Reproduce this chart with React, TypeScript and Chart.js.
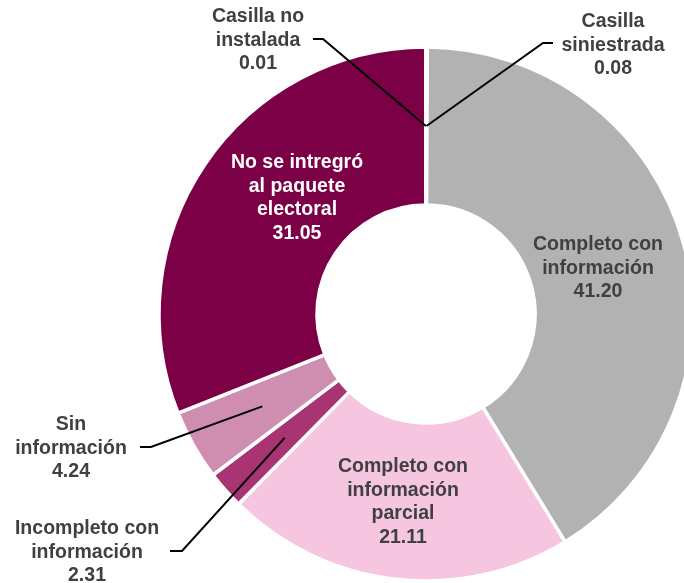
import React, { useEffect, useRef } from "react";
import { Chart, registerables } from "chart.js";

Chart.register(...registerables);

// ---- data ----
const categories = [
  "Casilla siniestrada",
  "Completo con información",
  "Completo con información parcial",
  "Incompleto con información",
  "Sin información",
  "No se intregró al paquete electoral",
  "Casilla no instalada",
];
const values = [0.08, 41.2, 21.11, 2.31, 4.24, 31.05, 0.01];
const sliceColors = [
  "#8c8c8c",
  "#b2b2b2",
  "#f6c6e1",
  "#a83473",
  "#cf8db0",
  "#7b0046",
  "#5e0035",
];
// wrapped category text for labels
const labelLines = [
  ["Casilla", "siniestrada"],
  ["Completo con", "información"],
  ["Completo con", "información", "parcial"],
  ["Incompleto con", "información"],
  ["Sin", "información"],
  ["No se intregró", "al paquete", "electoral"],
  ["Casilla no", "instalada"],
];

// ---- label layout (text positions, leader bend points) ----
type LabelLayout = {
  x: number;
  y: number;
  color: string;
  leader?: [number, number][];
};
const labelLayout: LabelLayout[] = [
  { x: 613, y: 22, color: "#404040", leader: [[553, 43], [543, 43]] },
  { x: 598, y: 245, color: "#404040" },
  { x: 403, y: 467, color: "#404040" },
  { x: 87, y: 529, color: "#404040", leader: [[170, 551], [182, 551]] },
  { x: 71, y: 425, color: "#404040", leader: [[140, 447], [151, 447]] },
  { x: 297, y: 163, color: "#ffffff" },
  { x: 258, y: 17, color: "#404040", leader: [[313, 39], [323, 39]] },
];

const FONT = 'bold 19.5px "Liberation Sans", Arial, sans-serif';
const LINE_H = 23.4;
const OUTER_R = 267;
const INNER_R = 109;

const labelPlugin = {
  id: "sliceLabels",
  afterDatasetsDraw(chart: any) {
    const ctx = chart.ctx as CanvasRenderingContext2D;
    const meta = chart.getDatasetMeta(0);
    ctx.save();
    // leader lines
    labelLayout.forEach((lay, i) => {
      if (!lay.leader) return;
      const arc = meta.data[i];
      const c = arc.getCenterPoint();
      ctx.beginPath();
      ctx.strokeStyle = "#000000";
      ctx.lineWidth = 2;
      ctx.lineJoin = "miter";
      ctx.moveTo(lay.leader[0][0], lay.leader[0][1]);
      for (let k = 1; k < lay.leader.length; k++) ctx.lineTo(lay.leader[k][0], lay.leader[k][1]);
      ctx.lineTo(c.x, c.y);
      ctx.stroke();
    });
    // texts
    ctx.font = FONT;
    ctx.textAlign = "center";
    ctx.textBaseline = "middle";
    labelLayout.forEach((lay, i) => {
      const lines = [...labelLines[i], values[i].toFixed(2)];
      ctx.fillStyle = lay.color;
      lines.forEach((t, k) => ctx.fillText(t, lay.x, lay.y + k * LINE_H));
    });
    ctx.restore();
  },
};

export default function App() {
  const ref = useRef<HTMLCanvasElement | null>(null);
  useEffect(() => {
    if (!ref.current) return;
    const chart = new Chart(ref.current, {
      type: "doughnut",
      data: {
        labels: categories,
        datasets: [
          {
            data: values,
            backgroundColor: sliceColors,
            borderColor: "#ffffff",
            borderWidth: 3.5,
            clip: false,
          } as any,
        ],
      },
      options: {
        responsive: false,
        maintainAspectRatio: false,
        animation: false,
        radius: OUTER_R,
        cutout: ((INNER_R / OUTER_R) * 100).toFixed(3) + "%",
        rotation: 0,
        layout: { padding: { left: 168, top: 45, right: 0, bottom: 0 } },
        plugins: {
          legend: { display: false },
          tooltip: { enabled: false },
        },
      } as any,
      plugins: [labelPlugin],
    });
    return () => chart.destroy();
  }, []);
  return (
    <div
      style={{
        position: "absolute",
        left: 0,
        top: 0,
        width: 684,
        height: 583,
        overflow: "hidden",
        background: "#ffffff",
      }}
    >
      <canvas ref={ref} width={684} height={583} style={{ display: "block" }} />
    </div>
  );
}
